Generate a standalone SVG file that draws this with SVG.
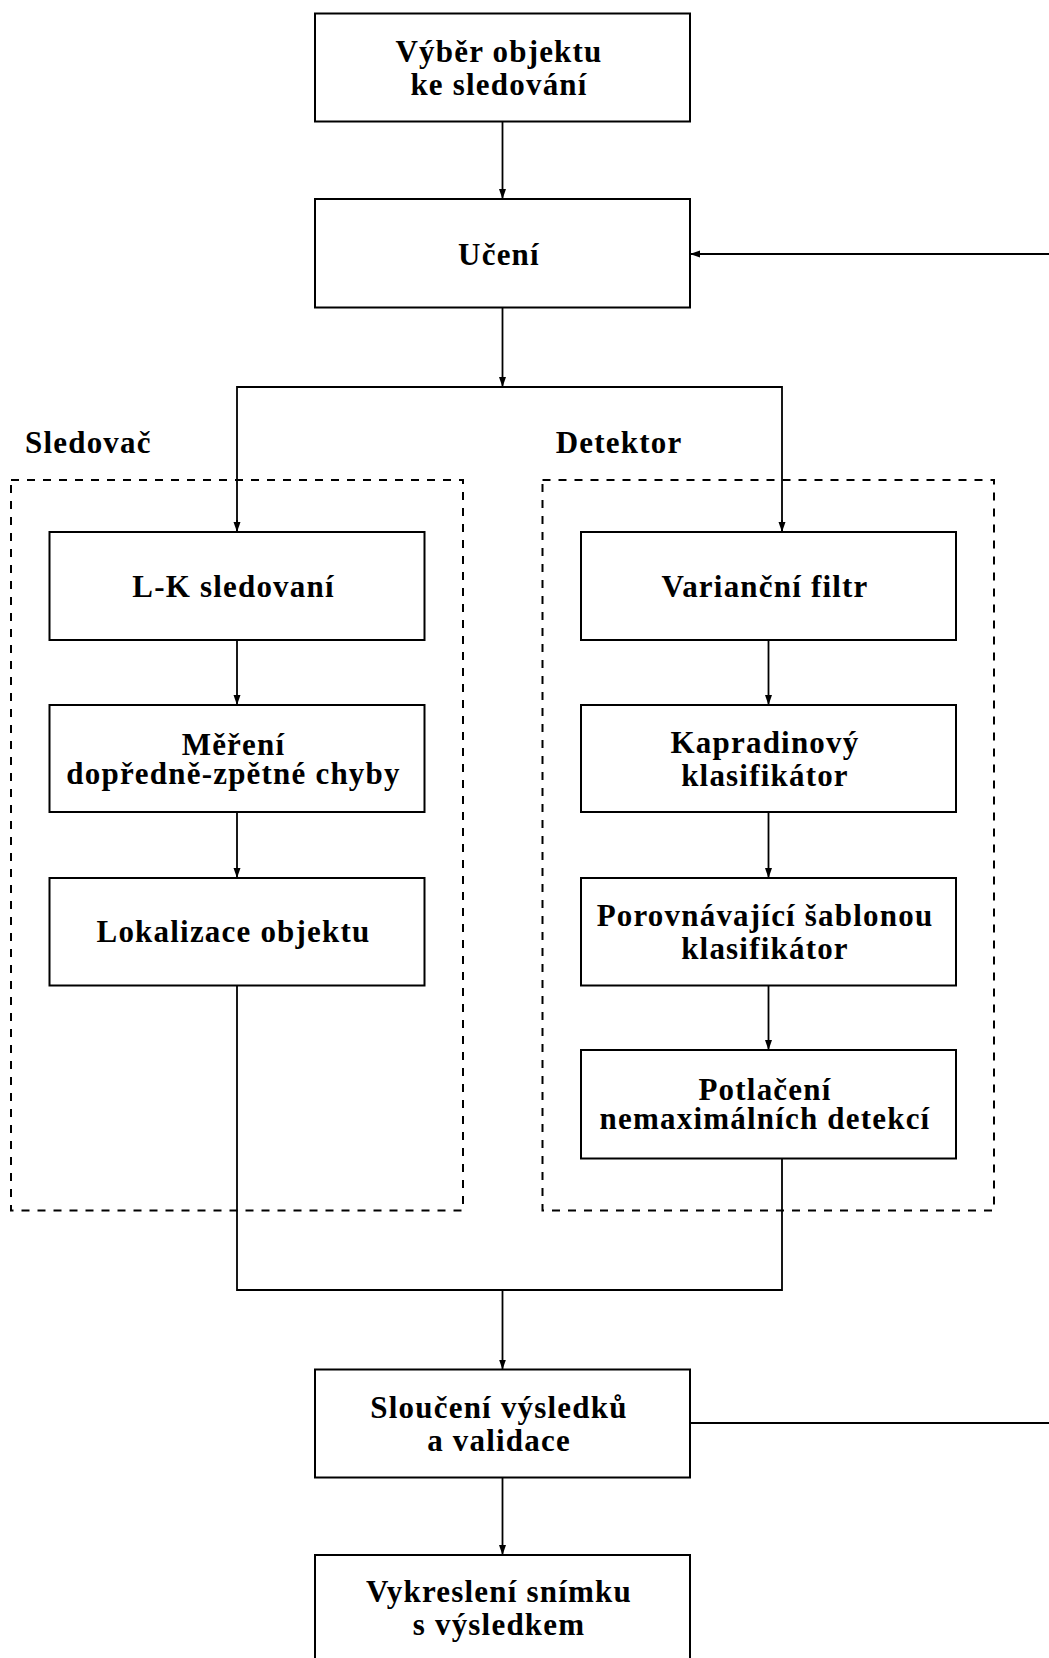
<svg xmlns="http://www.w3.org/2000/svg" width="1049" height="1658" viewBox="0 0 1049 1658">
<style>
.box{fill:#fff;stroke:#000;stroke-width:2}
.grp{fill:none;stroke:#000;stroke-width:2;stroke-dasharray:8 8}
.ln{fill:none;stroke:#000;stroke-width:1.8}
.t{font-family:"Liberation Serif","Times New Roman",serif;font-weight:bold;font-size:31px;letter-spacing:1.2px;text-anchor:middle;fill:#000}
.lbl{font-family:"Liberation Serif","Times New Roman",serif;font-weight:bold;font-size:31px;letter-spacing:1.2px;fill:#000}
</style>
<defs>
<marker id="ah" markerUnits="userSpaceOnUse" markerWidth="10" markerHeight="8" refX="10" refY="3.5" orient="auto">
<path d="M0,0 L10,3.5 L0,7 z" fill="#000"/>
</marker>
</defs>
<rect width="1049" height="1658" fill="#fff"/>
<g id="sledovac-group">
<rect class="grp" x="11" y="480" width="452" height="730.5"/>
<text class="lbl" x="25" y="452.7">Sledovač</text>
</g>
<g id="detektor-group">
<rect class="grp" x="542.5" y="480" width="451.5" height="730.5"/>
<text class="lbl" x="555.7" y="452.7">Detektor</text>
</g>
<g id="connectors">
<line class="ln" x1="502.5" y1="121.5" x2="502.5" y2="199" marker-end="url(#ah)"/>
<line class="ln" x1="1049" y1="254" x2="690" y2="254" marker-end="url(#ah)"/>
<line class="ln" x1="502.5" y1="307.5" x2="502.5" y2="387" marker-end="url(#ah)"/>
<polyline class="ln" points="237,532 237,387 782,387 782,532"/>
<line class="ln" x1="237" y1="520" x2="237" y2="532" marker-end="url(#ah)"/>
<line class="ln" x1="782" y1="520" x2="782" y2="532" marker-end="url(#ah)"/>
<line class="ln" x1="237" y1="640" x2="237" y2="705" marker-end="url(#ah)"/>
<line class="ln" x1="237" y1="812" x2="237" y2="878" marker-end="url(#ah)"/>
<line class="ln" x1="768.5" y1="640" x2="768.5" y2="705" marker-end="url(#ah)"/>
<line class="ln" x1="768.5" y1="812" x2="768.5" y2="878" marker-end="url(#ah)"/>
<line class="ln" x1="768.5" y1="985.5" x2="768.5" y2="1050" marker-end="url(#ah)"/>
<polyline class="ln" points="237,985.5 237,1290 782,1290 782,1158.5"/>
<line class="ln" x1="502.5" y1="1290" x2="502.5" y2="1369.5" marker-end="url(#ah)"/>
<line class="ln" x1="502.5" y1="1477.5" x2="502.5" y2="1555" marker-end="url(#ah)"/>
<line class="ln" x1="690" y1="1423" x2="1049" y2="1423"/>
</g>
<g id="vyber">
<rect class="box" x="315" y="13.5" width="375" height="108"/>
<text class="t" x="499" y="61.7">Výběr objektu</text>
<text class="t" x="499" y="95">ke sledování</text>
</g>
<g id="uceni">
<rect class="box" x="315" y="199" width="375" height="108.5"/>
<text class="t" x="499" y="265">Učení</text>
</g>
<g id="lk">
<rect class="box" x="49.5" y="532" width="375" height="108"/>
<text class="t" x="233.5" y="596.7">L-K sledovaní</text>
</g>
<g id="mereni">
<rect class="box" x="49.5" y="705" width="375" height="107"/>
<text class="t" x="233.5" y="755">Měření</text>
<text class="t" x="233.5" y="784">dopředně-zpětné chyby</text>
</g>
<g id="lokalizace">
<rect class="box" x="49.5" y="878" width="375" height="107.5"/>
<text class="t" x="233.5" y="942">Lokalizace objektu</text>
</g>
<g id="variancni">
<rect class="box" x="581" y="532" width="375" height="108"/>
<text class="t" x="765" y="596.7">Varianční filtr</text>
</g>
<g id="kapradinovy">
<rect class="box" x="581" y="705" width="375" height="107"/>
<text class="t" x="765" y="752.8">Kapradinový</text>
<text class="t" x="765" y="786.1">klasifikátor</text>
</g>
<g id="porovnavajici">
<rect class="box" x="581" y="878" width="375" height="107.5"/>
<text class="t" x="765" y="925.7">Porovnávající šablonou</text>
<text class="t" x="765" y="959">klasifikátor</text>
</g>
<g id="potlaceni">
<rect class="box" x="581" y="1050" width="375" height="108.5"/>
<text class="t" x="765" y="1100">Potlačení</text>
<text class="t" x="765" y="1129">nemaximálních detekcí</text>
</g>
<g id="slouceni">
<rect class="box" x="315" y="1369.5" width="375" height="108"/>
<text class="t" x="499" y="1417.5">Sloučení výsledků</text>
<text class="t" x="499" y="1450.8">a validace</text>
</g>
<g id="vykresleni">
<rect class="box" x="315" y="1555" width="375" height="108"/>
<text class="t" x="499" y="1601.7">Vykreslení snímku</text>
<text class="t" x="499" y="1634.5">s výsledkem</text>
</g>
</svg>
